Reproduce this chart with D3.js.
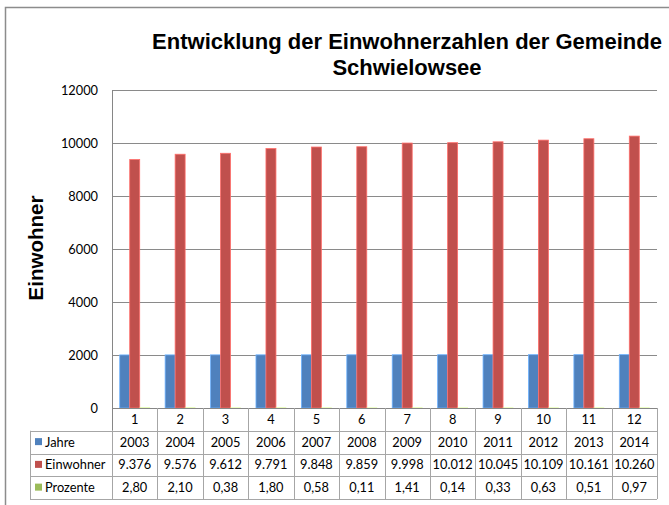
<!DOCTYPE html>
<html>
<head>
<meta charset="utf-8">
<script src="https://cdn.jsdelivr.net/npm/d3@7"></script>
<style>
  body { margin: 0; background: #fff; }
  svg { display: block; }
</style>
</head>
<body>
<div id="chart"></div>
<script>
// data
const categories = [1, 2, 3, 4, 5, 6, 7, 8, 9, 10, 11, 12];
const seriesNames = ["Jahre", "Einwohner", "Prozente"];
const jahre = [2003, 2004, 2005, 2006, 2007, 2008, 2009, 2010, 2011, 2012, 2013, 2014];
const einwohner = [9376, 9576, 9612, 9791, 9848, 9859, 9998, 10012, 10045, 10109, 10161, 10260];
const prozente = [2.80, 2.10, 0.38, 1.80, 0.58, 0.11, 1.41, 0.14, 0.33, 0.63, 0.51, 0.97];
const yTicks = [0, 2000, 4000, 6000, 8000, 10000, 12000];

const seriesValues = {Jahre: jahre, Einwohner: einwohner, Prozente: prozente};
const colors = {Jahre: "#4F81BD", Einwohner: "#C0504D", Prozente: "#9BBB59"};

// german number formats
const de = d3.formatLocale({decimal: ",", thousands: ".", grouping: [3], currency: ["", " €"]});
const formats = {
    Jahre: d3.format("d"),
    Einwohner: de.format(",.0f"),
    Prozente: de.format(".2f")
};

const W = 669, H = 505;
const plot = {left: 112, right: 657, top: 90, bottom: 408};
const rowH = 22.75;
const labelLeft = 30;

const svg = d3.select("#chart").append("svg")
    .attr("width", W)
    .attr("height", H);

// chart area frame
svg.append("path")
    .attr("d", `M5.5,${H} V7.5 H${W}`)
    .attr("fill", "none")
    .attr("stroke", "#8c8c8c")
    .attr("stroke-width", 1.5);

const x = d3.scaleBand()
    .domain(categories)
    .range([plot.left, plot.right]);

const xInner = d3.scaleBand()
    .domain(seriesNames)
    .range([x.bandwidth() * 0.17, x.bandwidth() * 0.83]);

const y = d3.scaleLinear()
    .domain([0, 12000])
    .range([plot.bottom, plot.top]);

// gridlines
svg.append("g")
    .selectAll("line")
    .data(yTicks.filter(d => d > 0))
    .enter().append("line")
    .attr("x1", plot.left)
    .attr("x2", plot.right)
    .attr("y1", d => Math.round(y(d)) + 0.5)
    .attr("y2", d => Math.round(y(d)) + 0.5)
    .attr("stroke", "#8a8a8a")
    .attr("stroke-width", 1);

// y axis
const yAxis = svg.append("g")
    .attr("transform", `translate(${plot.left},0)`)
    .call(d3.axisLeft(y).tickValues(yTicks).tickSize(0).tickPadding(14).tickFormat(d3.format("d")));
yAxis.select(".domain").remove();
yAxis.selectAll("text")
    .attr("font-family", "Lato, 'Open Sans', sans-serif")
    .attr("font-size", "12.8px")
    .attr("fill", "#000");

// bars
const groups = svg.append("g")
    .selectAll("g")
    .data(seriesNames)
    .enter().append("g")
    .attr("fill", d => colors[d]);

groups.selectAll("rect")
    .data(s => categories.map((c, i) => ({series: s, cat: c, value: seriesValues[s][i]})))
    .enter().append("rect")
    .attr("x", d => x(d.cat) + xInner(d.series))
    .attr("width", xInner.bandwidth())
    .attr("y", d => y(d.value))
    .attr("height", d => y(0) - y(d.value))
    .attr("stroke", d => d3.rgb(colors[d.series]).brighter(0.9))
    .attr("stroke-width", 0.8);

// axes lines
svg.append("line")
    .attr("x1", plot.left + 0.5).attr("x2", plot.left + 0.5)
    .attr("y1", plot.top).attr("y2", plot.bottom + rowH)
    .attr("stroke", "#868686");
svg.append("line")
    .attr("x1", plot.left).attr("x2", plot.right)
    .attr("y1", plot.bottom + 0.5).attr("y2", plot.bottom + 0.5)
    .attr("stroke", "#868686");

// data table
const table = svg.append("g")
    .attr("font-family", "Lato, 'Open Sans', sans-serif")
    .attr("font-size", "12.8px")
    .attr("fill", "#000");

const tableBottom = plot.bottom + rowH * 4;

// horizontal table lines
for (let r = 1; r <= 4; r++) {
    table.append("line")
        .attr("x1", labelLeft).attr("x2", plot.right)
        .attr("y1", Math.round(plot.bottom + rowH * r) + 0.5)
        .attr("y2", Math.round(plot.bottom + rowH * r) + 0.5)
        .attr("stroke", "#a6a6a6");
}
// left edge of label column
table.append("line")
    .attr("x1", labelLeft + 0.5).attr("x2", labelLeft + 0.5)
    .attr("y1", plot.bottom + rowH).attr("y2", tableBottom)
    .attr("stroke", "#a6a6a6");
// vertical category lines
table.selectAll(".vline")
    .data(categories)
    .enter().append("line")
    .attr("class", "vline")
    .attr("x1", d => Math.round(x(d) + x.bandwidth()) + 0.5)
    .attr("x2", d => Math.round(x(d) + x.bandwidth()) + 0.5)
    .attr("y1", plot.bottom)
    .attr("y2", tableBottom)
    .attr("stroke", "#a6a6a6");
table.append("line")
    .attr("x1", plot.left + 0.5).attr("x2", plot.left + 0.5)
    .attr("y1", plot.bottom + rowH).attr("y2", tableBottom)
    .attr("stroke", "#a6a6a6");

// category header row
table.selectAll(".cat")
    .data(categories)
    .enter().append("text")
    .attr("class", "cat")
    .attr("x", d => x(d) + x.bandwidth() / 2)
    .attr("y", plot.bottom + rowH / 2)
    .attr("dy", "0.35em")
    .attr("text-anchor", "middle")
    .text(d => d);

// series rows
seriesNames.forEach((s, r) => {
    const cy = plot.bottom + rowH * (r + 1) + rowH / 2;
    table.append("rect")
        .attr("x", labelLeft + 5)
        .attr("y", cy - 4)
        .attr("width", 7)
        .attr("height", 7)
        .attr("fill", colors[s]);
    table.append("text")
        .attr("x", labelLeft + 15)
        .attr("y", cy)
        .attr("dy", "0.35em")
        .text(s);
    table.selectAll(".v" + r)
        .data(categories)
        .enter().append("text")
        .attr("class", "v" + r)
        .attr("x", d => x(d) + x.bandwidth() / 2)
        .attr("y", cy)
        .attr("dy", "0.35em")
        .attr("text-anchor", "middle")
        .text((d, i) => formats[s](seriesValues[s][i]));
});

// title
const title = svg.append("text")
    .attr("text-anchor", "middle")
    .attr("font-family", "'Liberation Sans', Arial, sans-serif")
    .attr("font-weight", "bold")
    .attr("font-size", "22px")
    .attr("fill", "#000");
title.append("tspan").attr("x", 407).attr("y", 49).text("Entwicklung der Einwohnerzahlen der Gemeinde");
title.append("tspan").attr("x", 407).attr("y", 75).text("Schwielowsee");

// y axis title
svg.append("text")
    .attr("transform", "translate(43,248) rotate(-90)")
    .attr("text-anchor", "middle")
    .attr("font-family", "'Liberation Sans', Arial, sans-serif")
    .attr("font-weight", "bold")
    .attr("font-size", "20.5px")
    .attr("fill", "#000")
    .text("Einwohner");
</script>
</body>
</html>
